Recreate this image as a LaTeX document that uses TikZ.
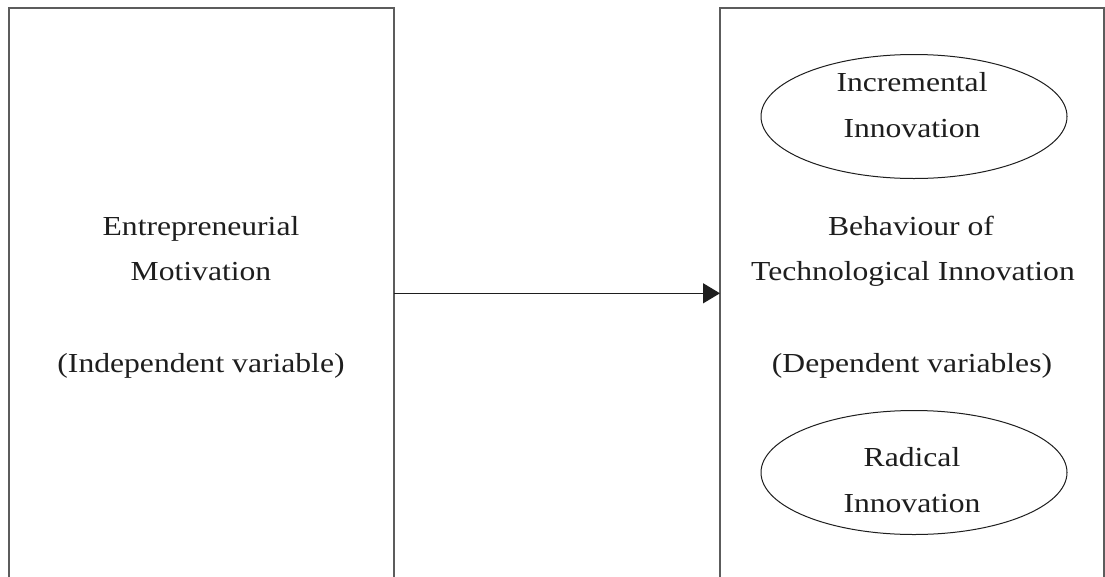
\documentclass[tikz,border=0pt]{standalone}
\usepackage{fontspec}
\setmainfont{Liberation Serif}[FakeStretch=1.15]
\usetikzlibrary{arrows.meta,shapes.geometric}
\definecolor{boxgrey}{HTML}{5C5C5C}
\definecolor{inkdark}{HTML}{1E1E1E}
\tikzset{
  varbox/.style={draw=boxgrey, line width=2pt, rectangle, inner sep=0pt, outer sep=0pt},
  subvar/.style={draw=inkdark, line width=1pt, ellipse, inner sep=0pt,
                 minimum width=306pt, minimum height=124pt},
  label/.style={font=\fontsize{27.5}{46}\selectfont, text=inkdark, anchor=base, inner sep=0pt},
  link/.style={draw=inkdark, line width=1.5pt, -{Triangle[length=17pt,width=20pt]}}
}
\begin{document}
\begin{tikzpicture}[x=1pt,y=-1pt]
  \useasboundingbox (0,0) rectangle (1105,576);
  \clip (0,0) rectangle (1105,576);
  \fill[white] (0,0) rectangle (1105,576);

  % the two variable boxes (running past the lower edge)
  \node[varbox, minimum width=385.5pt, minimum height=571.6pt] (indep) at (201.25,293.3) {};
  \node[varbox, minimum width=384pt,   minimum height=571.6pt] (dep)   at (912,293.3) {};

  % independent variable
  \node[label] (t1) at (201,235) {Entrepreneurial};
  \node[label] (t2) at (201,280) {Motivation};
  \node[label] (t3) at (201,372) {(Independent variable)};

  % dependent variables
  \node[label] (t4) at (911,235) {Behaviour of};
  \node[label] (t5) at (913,280) {Technological Innovation};
  \node[label] (t6) at (912,372) {(Dependent variables)};

  % the two kinds of innovation
  \node[subvar] (incr) at (914,116.5) {};
  \node[label] (t7) at (912,91.7) {Incremental};
  \node[label] (t8) at (912,137) {Innovation};

  \node[subvar] (radi) at (914,472.5) {};
  \node[label] (t9) at (912,466.7) {Radical};
  \node[label] (t10) at (912,512.7) {Innovation};

  % effect of motivation on innovation behaviour
  \draw[link] (indep.east) -- (dep.west);
\end{tikzpicture}
\end{document}
